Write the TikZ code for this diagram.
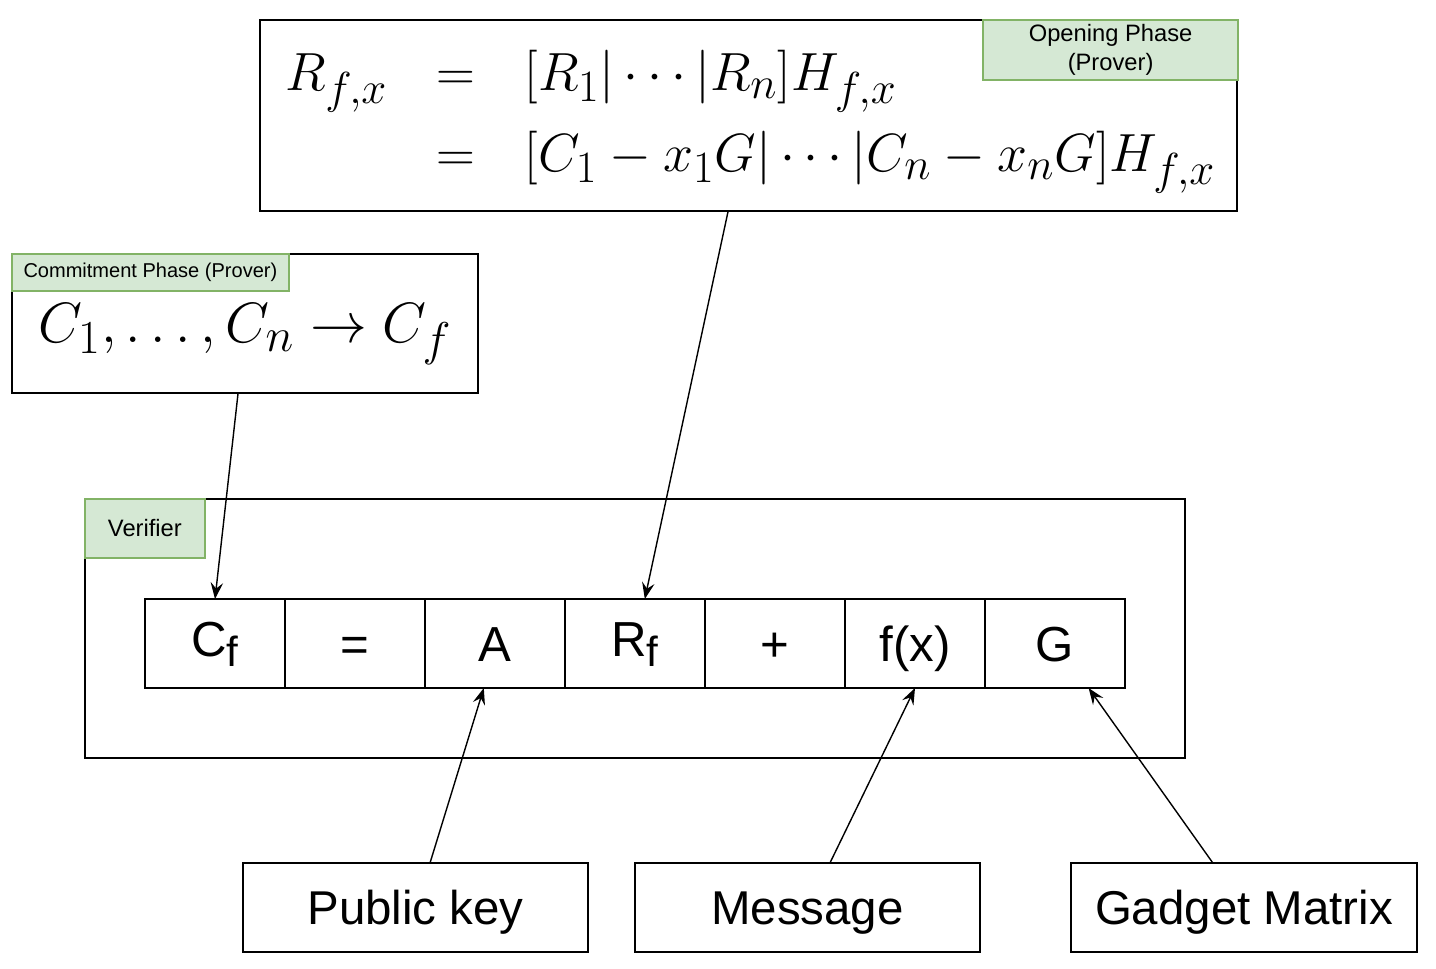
\documentclass[tikz,border=0pt]{standalone}
\usepackage[no-math]{fontspec}
\setmainfont{Liberation Sans}
\usetikzlibrary{positioning, calc, arrows.meta}
\definecolor{phasefill}{HTML}{D5E8D4}
\definecolor{phasedraw}{HTML}{82B366}
\newcommand{\lowsub}[1]{\raisebox{-5.5pt}{\fontsize{24}{24}\selectfont #1}}
\tikzstyle{frame} = [rectangle, draw=black, line width=1.1pt]
\tikzstyle{phase} = [rectangle, draw=phasedraw, fill=phasefill, line width=1pt, align=center, inner sep=0pt, font=\fontsize{13.5}{16}\selectfont]
\tikzstyle{cell} = [rectangle, draw=black, line width=1.1pt, minimum width=2.8cm, minimum height=1.78cm, outer sep=0pt, inner sep=0pt, text height=20pt, text depth=0pt, font=\fontsize{28}{30}\selectfont]
\tikzstyle{subcell} = [cell, text depth=5pt]
\tikzstyle{inbox} = [rectangle, draw=black, line width=1.1pt, minimum width=6.9cm, minimum height=1.78cm, outer sep=0pt, text height=19.3pt, text depth=0pt, font=\fontsize{27}{30}\selectfont]
\tikzstyle{arrow} = [line width=0.8pt, -{Stealth[length=3.3mm, width=2.5mm, inset=1.2mm]}]

\begin{document}
\begin{tikzpicture}[node distance=0.94cm]
\useasboundingbox (0,0) rectangle (28.72,-19.36);
% prover boxes
\node (open) [frame, minimum width=19.54cm, minimum height=3.82cm] at (14.97,-2.31) {};
\node (openlbl) [phase, minimum width=5.1cm, minimum height=1.2cm, anchor=north east] at ([xshift=0.02cm]open.north east) {Opening Phase\\(Prover)};
\node (rfx) [anchor=west, inner sep=0pt, scale=1.23, font=\fontsize{28}{34}\selectfont] at ($(open.west)+(0.3,-0.02)$) {$\begin{array}{r@{\hspace{0.8cm}}c@{\hspace{0.8cm}}l} R_{f,x} & = & [R_1|\cdots|R_n]H_{f,x}\\[0.12cm] & = & [C_1-x_1G|\cdots|C_n-x_nG]H_{f,x}\end{array}$};

\node (commit) [frame, minimum width=9.32cm, minimum height=2.78cm] at (4.9,-6.47) {};
\node (commitlbl) [phase, minimum width=5.54cm, minimum height=0.74cm, anchor=north west, font=\fontsize{11.4}{13}\selectfont] at (commit.north west) {Commitment Phase (Prover)};
\node (cform) [scale=1.3, font=\fontsize{28}{34}\selectfont] at ($(commit.center)+(0,-0.22)$) {$C_1,\ldots,C_n\to C_f$};

% verifier
\node (verif) [frame, minimum width=22cm, minimum height=5.18cm] at (12.7,-12.57) {};
\node (veriflbl) [phase, minimum width=2.4cm, minimum height=1.18cm, anchor=north west] at (verif.north west) {Verifier};
\node (cf) [subcell] at (4.3,-12.87) {C\lowsub{f}};
\node (eq) [cell, right=0pt of cf] {=};
\node (a) [cell, right=0pt of eq] {A};
\node (rf) [subcell, right=0pt of a] {R\lowsub{f}};
\node (plus) [cell, right=0pt of rf] {+};
\node (fx) [cell, right=0pt of plus] {f(x)};
\node (g) [cell, right=0pt of fx] {G};

% inputs
\node (pk) [inbox] at (8.31,-18.15) {Public key};
\node (msg) [inbox, right=of pk] {Message};
\node (gadget) [inbox, minimum width=6.92cm, right=1.82cm of msg] {Gadget Matrix};

\draw[arrow] ($(commit.south west)!0.485!(commit.south east)$) -- (cf.north);
\draw[arrow] ($(open.south west)!0.479!(open.south east)$) -- ($(rf.north west)!0.57!(rf.north east)$);
\draw[arrow] ($(pk.north west)!0.542!(pk.north east)$) -- ($(a.south west)!0.42!(a.south east)$);
\draw[arrow] ($(msg.north west)!0.565!(msg.north east)$) -- (fx.south);
\draw[arrow] ($(gadget.north west)!0.41!(gadget.north east)$) -- ($(g.south west)!0.74!(g.south east)$);
\end{tikzpicture}
\end{document}
